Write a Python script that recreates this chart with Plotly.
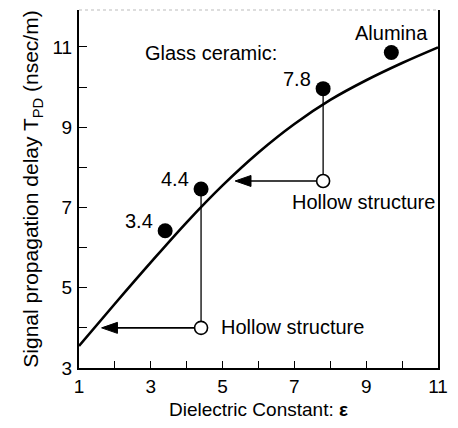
import plotly.graph_objects as go

# Delay curve: signal propagation delay vs dielectric constant
curve_eps = [1, 2, 3, 4, 5, 6, 7, 8, 9, 10, 11]
curve_tpd = [3.55, 4.6, 5.63, 6.63, 7.55, 8.37, 9.08, 9.68, 10.17, 10.6, 10.99]

# Measured materials (filled dots)
glass_eps = [3.4, 4.4, 7.8]
glass_tpd = [6.42, 7.46, 9.96]
glass_labels = ["3.4", "4.4", "7.8"]
alumina_eps = [9.7]
alumina_tpd = [10.86]

# Hollow-structure versions (open dots) and where their arrows point
hollow_eps = [4.4, 7.8]
hollow_tpd = [4.0, 7.66]
arrow_tip_eps = [1.63, 5.35]

FONT = "Liberation Sans, Arial, Helvetica, sans-serif"
X_RANGE = [1, 11]
Y_RANGE = [3, 11.92]
L, R, T, B = 79, 16, 10, 60
W, H = 458, 428
px_x = (W - L - R) / (X_RANGE[1] - X_RANGE[0])
px_y = (H - T - B) / (Y_RANGE[1] - Y_RANGE[0])

fig = go.Figure()

# Connector lines: vertical from hollow dot up to its solid counterpart,
# horizontal from hollow dot to the arrow tip
for hx, hy, gx in zip(hollow_eps, hollow_tpd, arrow_tip_eps):
    gy = glass_tpd[glass_eps.index(hx)]
    fig.add_trace(go.Scatter(x=[hx, hx], y=[hy, gy], mode="lines",
                             line=dict(color="black", width=1.3),
                             hoverinfo="skip", showlegend=False))
    fig.add_trace(go.Scatter(x=[hx, gx + 8 / px_x], y=[hy, hy], mode="lines",
                             line=dict(color="black", width=1.6),
                             hoverinfo="skip", showlegend=False))
    # filled arrowhead, 16 px long and 11 px tall
    hl = 16 / px_x
    hh = 5.5 / px_y
    fig.add_trace(go.Scatter(x=[gx, gx + hl, gx + hl, gx],
                             y=[hy, hy + hh, hy - hh, hy],
                             mode="lines", fill="toself", fillcolor="black",
                             line=dict(color="black", width=1),
                             hoverinfo="skip", showlegend=False))

# Main curve
fig.add_trace(go.Scatter(x=curve_eps, y=curve_tpd, mode="lines",
                         line=dict(color="black", width=2.6, shape="spline",
                                   smoothing=1.0),
                         showlegend=False))

# Solid dots
fig.add_trace(go.Scatter(x=glass_eps + alumina_eps, y=glass_tpd + alumina_tpd,
                         mode="markers",
                         marker=dict(color="black", size=15, line=dict(width=0)),
                         showlegend=False))

# Open dots
fig.add_trace(go.Scatter(x=hollow_eps, y=hollow_tpd, mode="markers",
                         marker=dict(color="white", size=13,
                                     line=dict(color="black", width=1.6)),
                         showlegend=False))

annotations = []
tf = dict(family=FONT, size=20, color="black")
# value labels beside the glass-ceramic dots
for ex, ty, lab in zip(glass_eps, glass_tpd, glass_labels):
    annotations.append(dict(x=ex, y=ty, text=lab, showarrow=False, font=tf,
                            xanchor="right", yanchor="middle",
                            xshift=-10, yshift=10))
annotations.append(dict(x=alumina_eps[0], y=alumina_tpd[0], text="Alumina",
                        showarrow=False, font=tf, xanchor="center",
                        yanchor="bottom", xshift=0, yshift=7))
annotations.append(dict(x=1, y=11, text="Glass ceramic:", showarrow=False,
                        font=tf, xanchor="left", yanchor="middle",
                        xshift=64, yshift=-6))
annotations.append(dict(x=hollow_eps[1], y=hollow_tpd[1], text="Hollow structure",
                        showarrow=False, font=tf, xanchor="left",
                        yanchor="top", xshift=-33, yshift=-8))
annotations.append(dict(x=hollow_eps[0], y=hollow_tpd[0], text="Hollow structure",
                        showarrow=False, font=tf, xanchor="left",
                        yanchor="middle", xshift=18, yshift=1))

fig.add_shape(type="line", xref="x domain", yref="y domain", x0=0, x1=1,
              y0=1, y1=1, line=dict(color="#bbbbbb", width=1, dash="dot"))

fig.update_layout(
    width=W, height=H,
    margin=dict(l=L, r=R, t=T, b=B),
    paper_bgcolor="white", plot_bgcolor="white",
    font=dict(family=FONT, size=18, color="black"),
    annotations=annotations,
    showlegend=False,
)
fig.update_xaxes(range=X_RANGE, tickvals=[1, 3, 5, 7, 9, 11],
                 ticks="inside", ticklen=7, tickwidth=1.3, tickcolor="black",
                 minor=dict(dtick=1, ticks="inside", ticklen=7, tickwidth=1.3,
                            tickcolor="black"),
                 showline=True, linecolor="black", linewidth=2,
                 showgrid=False, zeroline=False,
                 title=dict(text="Dielectric Constant: <b>ε</b>",
                            font=dict(family=FONT, size=19), standoff=7),
                 tickfont=dict(family=FONT, size=19))
fig.update_yaxes(range=Y_RANGE, tickvals=[3, 5, 7, 9, 11],
                 ticks="inside", ticklen=8, tickwidth=1.3, tickcolor="black",
                 minor=dict(dtick=1, tick0=3, ticks="inside", ticklen=8,
                            tickwidth=1.3, tickcolor="black"),
                 showline=True, linecolor="black", linewidth=2, mirror=True,
                 showgrid=False, zeroline=False, ticklabelstandoff=1,
                 title=dict(text="Signal propagation delay T<sub>PD</sub> (nsec/m)",
                            font=dict(family=FONT, size=21), standoff=8),
                 tickfont=dict(family=FONT, size=19))

fig.write_html("out.html")
